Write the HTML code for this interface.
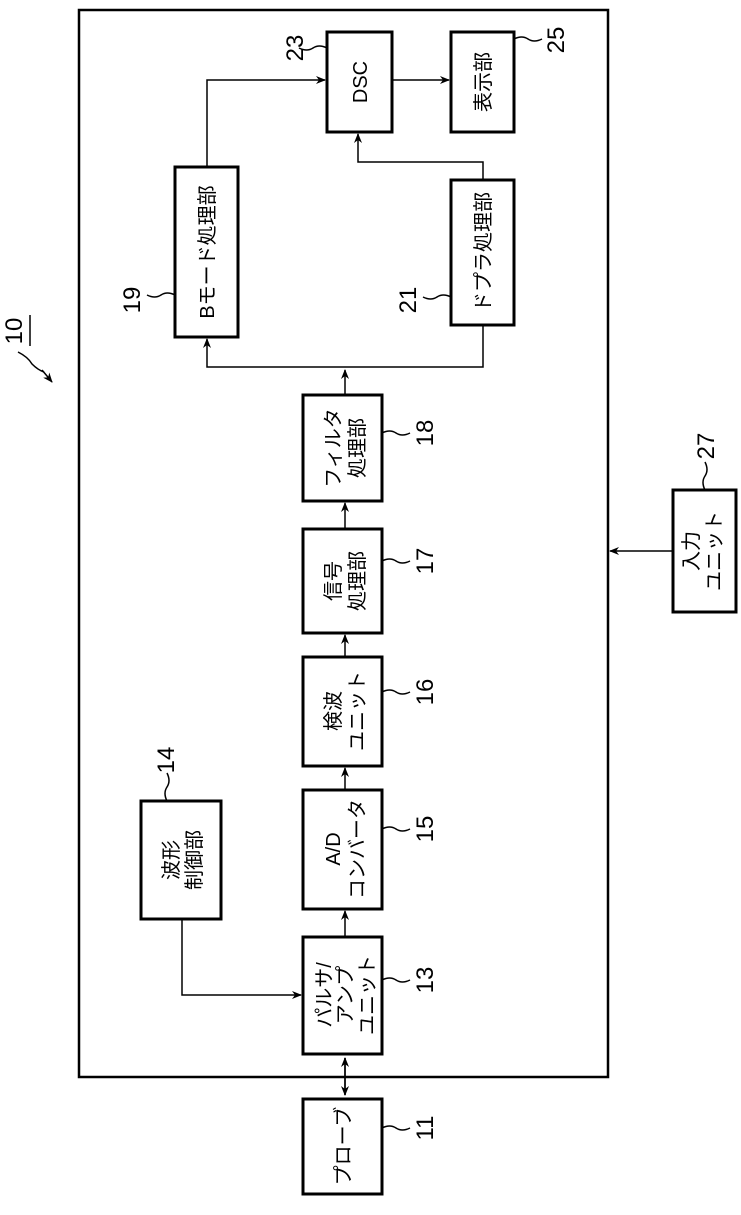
<!DOCTYPE html>
<html><head><meta charset="utf-8"><style>body{margin:0;background:#fff}</style></head>
<body>
<svg width="741" height="1210" viewBox="0 0 741 1210" xmlns="http://www.w3.org/2000/svg" font-family="Liberation Sans, Noto Sans CJK JP, sans-serif">
<defs><marker id="a" markerWidth="10" markerHeight="8" refX="9" refY="4" orient="auto" markerUnits="userSpaceOnUse"><path d="M0,0 L10,4 L0,8 L3,4Z" fill="#000"/></marker></defs>
<rect x="79" y="10" width="529" height="1067" fill="none" stroke="#000" stroke-width="2.5"/>
<g fill="#fff" stroke="#000" stroke-width="3">
<rect x="303" y="1099" width="79" height="95"/>
<rect x="303" y="937" width="79" height="117"/>
<rect x="141" y="801" width="80" height="118"/>
<rect x="303" y="790" width="79" height="119"/>
<rect x="303" y="657" width="79" height="109"/>
<rect x="303" y="529" width="79" height="104"/>
<rect x="303" y="395" width="79" height="106"/>
<rect x="175" y="167" width="63" height="170"/>
<rect x="451" y="180" width="63" height="145"/>
<rect x="327" y="32" width="65" height="100"/>
<rect x="451" y="32" width="63" height="100"/>
<rect x="673" y="490" width="63" height="122"/>
</g>
<g stroke="#000" stroke-width="1.5" fill="none">
<line x1="345" y1="1095" x2="345" y2="1058" marker-end="url(#a)"/>
<line x1="345" y1="1058" x2="345" y2="1095" marker-end="url(#a)"/>
<line x1="345" y1="937" x2="345" y2="911" marker-end="url(#a)"/>
<line x1="345" y1="790" x2="345" y2="768" marker-end="url(#a)"/>
<line x1="345" y1="657" x2="345" y2="635" marker-end="url(#a)"/>
<line x1="345" y1="529" x2="345" y2="503" marker-end="url(#a)"/>
<line x1="345" y1="395" x2="345" y2="370" marker-end="url(#a)"/>
<polyline points="182,919 182,995 301,995" marker-end="url(#a)"/>
<polyline points="483,325 483,367 207,367 207,339" marker-end="url(#a)"/>
<polyline points="207,167 207,80 325,80" marker-end="url(#a)"/>
<line x1="392" y1="80" x2="449" y2="80" marker-end="url(#a)"/>
<polyline points="483,180 483,162 358,162 358,134" marker-end="url(#a)"/>
<line x1="673" y1="551" x2="610" y2="551" marker-end="url(#a)"/>
<path d="M382,1128 q8,-4 14,0 q6,4 14,0"/>
<path d="M382,980 q8,-4 14,0 q6,4 14,0"/>
<path d="M382,829 q8,-4 14,0 q6,4 14,0"/>
<path d="M382,692 q8,-4 14,0 q6,4 14,0"/>
<path d="M382,561 q8,-4 14,0 q6,4 14,0"/>
<path d="M382,433 q8,-4 14,0 q6,4 14,0"/>
<path d="M167,801 q-4,-8 0,-14 q4,-6 0,-14"/>
<path d="M175,295 q-8,-4 -14,0 q-6,4 -14,0"/>
<path d="M451,297 q-8,-4 -14,0 q-6,4 -14,0"/>
<path d="M327,48 q-8,-4 -14,0 q-6,4 -14,0"/>
<path d="M514,39 q8,-4 14,0 q6,4 14,0"/>
<path d="M705,490 q-4,-8 0,-14 q4,-6 0,-14"/>
<path d="M18,352 q10,5 14,12 q6,6 12,8" />
<line x1="42" y1="370" x2="52" y2="382" marker-end="url(#a)"/>
</g>
<g font-size="20" text-anchor="middle">
<text transform="translate(350,1146) rotate(-90)">プローブ</text>
<text transform="translate(331,995) rotate(-90)">パルサ/</text>
<text transform="translate(352,995) rotate(-90)">アンプ</text>
<text transform="translate(374,995) rotate(-90)">ユニット</text>
<text transform="translate(178,860) rotate(-90)">波形</text>
<text transform="translate(201,860) rotate(-90)">制御部</text>
<text transform="translate(340,849) rotate(-90)">A/D</text>
<text transform="translate(364,849) rotate(-90)">コンバータ</text>
<text transform="translate(340,711) rotate(-90)">検波</text>
<text transform="translate(364,711) rotate(-90)">ユニット</text>
<text transform="translate(340,581) rotate(-90)">信号</text>
<text transform="translate(364,581) rotate(-90)">処理部</text>
<text transform="translate(340,448) rotate(-90)">フィルタ</text>
<text transform="translate(364,448) rotate(-90)">処理部</text>
<text transform="translate(214,252) rotate(-90)">Bモード処理部</text>
<text transform="translate(490,252) rotate(-90)">ドプラ処理部</text>
<text transform="translate(367,82) rotate(-90)">DSC</text>
<text transform="translate(490,82) rotate(-90)">表示部</text>
<text transform="translate(698,551) rotate(-90)">入力</text>
<text transform="translate(721,551) rotate(-90)">ユニット</text>
</g>
<g font-size="24" text-anchor="middle">
<text transform="translate(433,1128) rotate(-90)">11</text>
<text transform="translate(433,980) rotate(-90)">13</text>
<text transform="translate(433,829) rotate(-90)">15</text>
<text transform="translate(433,692) rotate(-90)">16</text>
<text transform="translate(433,561) rotate(-90)">17</text>
<text transform="translate(433,433) rotate(-90)">18</text>
<text transform="translate(174,760) rotate(-90)">14</text>
<text transform="translate(140,300) rotate(-90)">19</text>
<text transform="translate(416,300) rotate(-90)">21</text>
<text transform="translate(303,48) rotate(-90)">23</text>
<text transform="translate(564,40) rotate(-90)">25</text>
<text transform="translate(714,446) rotate(-90)">27</text>
<text transform="translate(22,331) rotate(-90)">10</text>
</g>
<line x1="30" y1="315" x2="30" y2="346" stroke="#000" stroke-width="1.5"/>
</svg>
</body></html>
